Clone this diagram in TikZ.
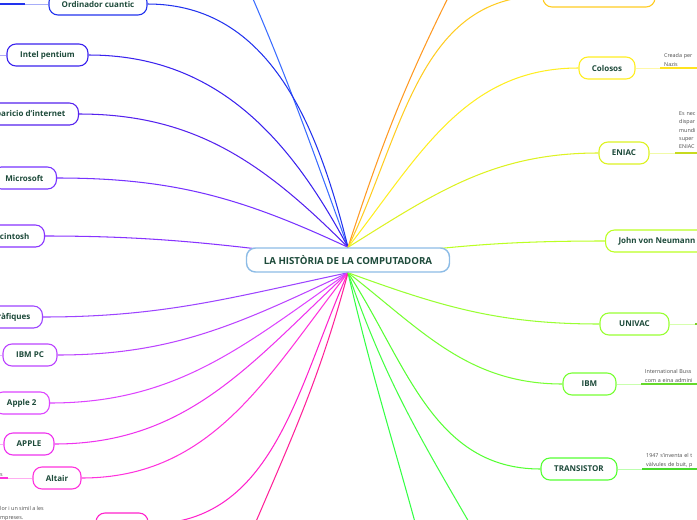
\documentclass[tikz,border=0pt]{standalone}
\usepackage{fontspec}
\setmainfont{Open Sans}
\usetikzlibrary{positioning,backgrounds}
\definecolor{deepgreen}{HTML}{1D4A3A}
\definecolor{notegray}{HTML}{4A4A4A}
\definecolor{rootblue}{HTML}{8DBCE6}
\definecolor{topblue}{HTML}{3A6CFF}
\definecolor{cuanticblue}{HTML}{2233EE}
\definecolor{intelblue}{HTML}{3A22EE}
\definecolor{internetviolet}{HTML}{5522EE}
\definecolor{microviolet}{HTML}{7733FF}
\definecolor{macviolet}{HTML}{8833FF}
\definecolor{grafviolet}{HTML}{9D44FF}
\definecolor{ibmpcviolet}{HTML}{BB44FF}
\definecolor{appletwo}{HTML}{DD44FF}
\definecolor{applepink}{HTML}{EE33EE}
\definecolor{altairpink}{HTML}{FF33DD}
\definecolor{boxpink}{HTML}{FF22CC}
\definecolor{deeppink}{HTML}{FF2299}
\definecolor{orange1}{HTML}{FF9922}
\definecolor{topyellow}{HTML}{FFCC22}
\definecolor{colososyellow}{HTML}{FFEE22}
\definecolor{eniaclime}{HTML}{DDF222}
\definecolor{neumannlime}{HTML}{BBFF22}
\definecolor{univaclime}{HTML}{99FF33}
\definecolor{ibmgreen}{HTML}{77FF33}
\definecolor{transgreen}{HTML}{55FF33}
\definecolor{greenA}{HTML}{44FF44}
\definecolor{greenB}{HTML}{33FF44}

\tikzset{
  topic/.style={draw, fill=white, rounded corners=9pt, line width=1.1pt, minimum height=22pt,
    inner xsep=6pt, font=\fontsize{8}{9}\selectfont\bfseries, text=deepgreen},
  rootTopic/.style={topic, draw=rootblue, line width=1.4pt, minimum width=203pt, minimum height=24pt,
    font=\fontsize{9.7}{11}\selectfont\bfseries},
  branch/.style={line width=1.05pt},
  stub/.style={line width=0.8pt},
  underline/.style={line width=1.8pt},
  note/.style={font=\fontsize{5.4}{8.3}\selectfont, text=notegray, align=left, inner xsep=4pt, inner ysep=1.5pt},
}

\begin{document}
\begin{tikzpicture}[x=1pt,y=-1pt]
\useasboundingbox (0,0) rectangle (697,520);
\clip (0,0) rectangle (697,520);

% centre
\node[rootTopic] (root) at (348,260) {LA HISTÒRIA DE LA COMPUTADORA};

% left side
\node[topic, draw=cuanticblue, minimum width=98pt] (cuantic) at (98,4) {Ordinador cuantic};
\node[topic, draw=intelblue, minimum width=81pt] (intel) at (47.5,55) {Intel pentium};
\node[topic, draw=internetviolet, anchor=east, inner xsep=13pt] (internet) at (79,114) {Aparicio d'internet};
\node[topic, draw=microviolet, anchor=east, inner xsep=13pt] (microsoft) at (57,178) {Microsoft};
\node[topic, draw=macviolet, anchor=east, inner xsep=15pt] (mac) at (45,236) {Macintosh};
\node[topic, draw=grafviolet, anchor=east, inner xsep=12pt] (grafiques) at (43,317) {Targetes gràfiques};
\node[topic, draw=ibmpcviolet, minimum width=54pt] (ibmpc) at (30,355) {IBM PC};
\node[topic, draw=appletwo, anchor=east, inner xsep=13pt] (apple2) at (50,403) {Apple 2};
\node[topic, draw=applepink, minimum width=50pt] (apple) at (29,444) {APPLE};
\node[topic, draw=altairpink, minimum width=48pt] (altair) at (57,478) {Altair};
\node[topic, draw=boxpink, minimum width=52pt] (pinkbox) at (122,524) {};

% right side
\node[topic, draw=topyellow, minimum width=112pt] (topbox) at (599,-4) {};
\node[topic, draw=colososyellow, minimum width=56pt] (colosos) at (607,68) {Colosos};
\node[topic, draw=eniaclime, minimum width=50pt] (eniac) at (624,153) {ENIAC};
\node[topic, draw=neumannlime, anchor=west, inner xsep=13pt] (neumann) at (605,241) {John von Neumann};
\node[topic, draw=univaclime, minimum width=69pt] (univac) at (634.5,324) {UNIVAC};
\node[topic, draw=ibmgreen, minimum width=53pt] (ibm) at (589.5,384) {IBM};
\node[topic, draw=transgreen, minimum width=76pt] (transistor) at (579,469) {TRANSISTOR};

% notes
\node[note, anchor=south west, text width=60pt] (colososNote) at (660,68) {Creada per\\Nazis};
\node[note, anchor=south west, text width=40pt, inner ysep=4pt] (eniacNote) at (675,153) {Es nec\\dispar\\mundi\\super\\ENIAC};
\node[note, anchor=south west, text width=70pt] (ibmNote) at (641,384) {International Buss\\com a eina admini};
\node[note, anchor=south west, text width=70pt] (transNote) at (642,469) {1947 s'inventa el t\\vàlvules de buit, p};
\node[note, anchor=south east, align=right, text width=30pt, inner xsep=5pt] (altairNote) at (8,478) {s};
\node[note, anchor=south west, inner xsep=0pt] (pinkNote) at (0,522) {lor i un simil a les\\mpreses.};

\coordinate (topBlueEnd) at (236,-40);
\coordinate (orangeEnd) at (462,-30);
\coordinate (deepPinkEnd) at (246,545);
\coordinate (greenAEnd) at (484,548);
\coordinate (greenBEnd) at (422,548);
\coordinate (cuanticMid) at (25,4);
\coordinate (cuanticEnd) at (-5,4);
\coordinate (intelEnd) at (-5,55);
\coordinate (ibmpcEnd) at (-5,355);
\coordinate (appleEnd) at (-5,444);
\coordinate (univacMid) at (695,324);
\coordinate (univacEnd) at (705,324);

\begin{scope}[on background layer]
% branches, top half
\draw[branch, topblue] (root.north) to[out=110, in=-66] (topBlueEnd);
\draw[branch, cuanticblue] (root.north) to[out=104, in=0] (cuantic.east);
\draw[branch, intelblue] (root.north) to[out=118, in=0] (intel.east);
\draw[branch, internetviolet] (root.north) to[out=135, in=0] (internet.east);
\draw[branch, microviolet] (root.north) to[out=155, in=0] (microsoft.east);
\draw[branch, macviolet] (root.center) to[out=173, in=0] (mac.east);
\draw[branch, orange1] (root.north) to[out=72, in=-117] (orangeEnd);
\draw[branch, topyellow] (root.north) to[out=64, in=180] (topbox.west);
\draw[branch, colososyellow] (root.north) to[out=52, in=180] (colosos.west);
\draw[branch, eniaclime] (root.north) to[out=32, in=180] (eniac.west);
\draw[branch, neumannlime] (root.center) to[out=8, in=180] (neumann.west);
% branches, bottom half
\draw[branch, grafviolet] (root.south) to[out=192, in=0] (grafiques.east);
\draw[branch, ibmpcviolet] (root.south) to[out=205, in=0] (ibmpc.east);
\draw[branch, appletwo] (root.south) to[out=215, in=0] (apple2.east);
\draw[branch, applepink] (root.south) to[out=223, in=0] (apple.east);
\draw[branch, altairpink] (root.south) to[out=232, in=0] (altair.east);
\draw[branch, boxpink] (root.south) to[out=246, in=0] (pinkbox.east);
\draw[branch, deeppink] (root.south) to[out=255, in=67] (deepPinkEnd);
\draw[branch, greenB] (root.south) to[out=-77, in=105] (greenBEnd);
\draw[branch, greenA] (root.south) to[out=-71, in=120] (greenAEnd);
\draw[branch, transgreen] (root.south) to[out=-57, in=180] (transistor.west);
\draw[branch, ibmgreen] (root.south) to[out=-38, in=180] (ibm.west);
\draw[branch, univaclime] (root.south) to[out=-20, in=180] (univac.west);
\end{scope}

% stubs to the sub-topics
\draw[stub, cuanticblue!40] (cuantic.west) -- (cuanticMid);
\draw[underline, cuanticblue] (cuanticMid) -- (cuanticEnd);
\draw[stub, intelblue!40] (intel.west) -- (intelEnd);
\draw[stub, ibmpcviolet!40] (ibmpc.west) -- (ibmpcEnd);
\draw[stub, applepink!40] (apple.west) -- (appleEnd);
\draw[stub, altairpink!40] (altair.west) -- (altairNote.south east);
\draw[underline, altairpink] (altairNote.south east) -- (altairNote.south west);
\draw[stub, colososyellow!40] (colosos.east) -- (colososNote.south west);
\draw[underline, colososyellow!90!orange] (colososNote.south west) -- (colososNote.south east);
\draw[stub, eniaclime!40] (eniac.east) -- (eniacNote.south west);
\draw[underline, eniaclime!90!black] (eniacNote.south west) -- (eniacNote.south east);
\draw[stub, univaclime!40] (univac.east) -- (univacMid);
\draw[underline, univaclime!80!black] (univacMid) -- (univacEnd);
\draw[stub, ibmgreen!40] (ibm.east) -- (ibmNote.south west);
\draw[underline, ibmgreen!85!black] (ibmNote.south west) -- (ibmNote.south east);
\draw[stub, transgreen!40] (transistor.east) -- (transNote.south west);
\draw[underline, transgreen!85!black] (transNote.south west) -- (transNote.south east);
\end{tikzpicture}
\end{document}
